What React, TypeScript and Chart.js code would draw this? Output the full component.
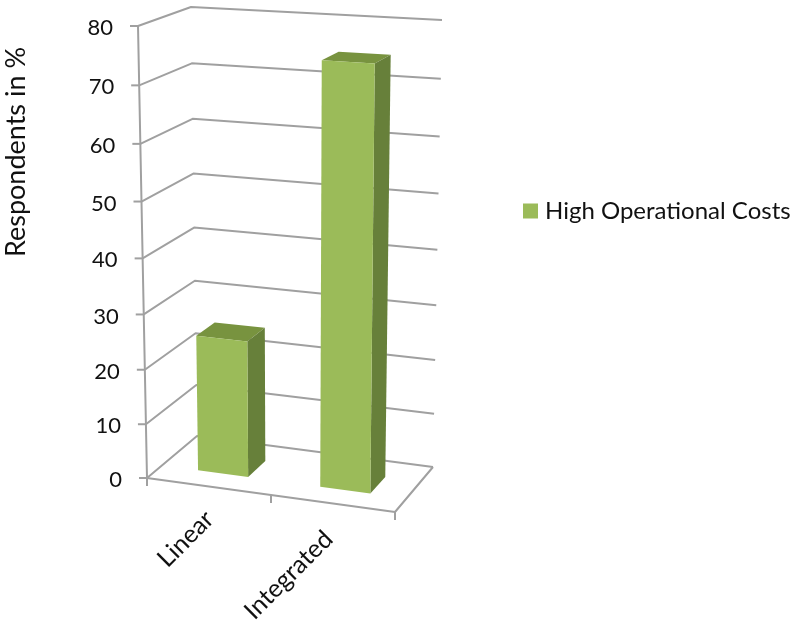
import React, { useEffect, useRef } from "react";
import { Chart, registerables, LinearScale, CategoryScale } from "chart.js";

// Chart values
const categories = ["Linear", "Integrated"];
const highOperationalCosts = [25, 75];
const seriesName = "High Operational Costs";
const yAxisTitle = "Respondents in %";
const yMin = 0;
const yMax = 80;
const yStep = 10;

// Colours
const FRONT = "#9BBB59";
const SIDE = "#67803A";
const TOP = "#78933F";
const GRID = "#A0A0A0";
const TEXT = "#111111";
const FONT = "Lato";

// Corners of the 3D box: floor (front-left, front-right, back-right, back-left)
// and the offset from each floor corner up to the top of the value range.
const FLOOR = {
  fl: [147, 478],
  fr: [395, 512],
  br: [433, 467],
  bl: [197, 436],
};
const RISE = {
  fl: [-9, -452],
  fr: [6, -470],
  br: [9, -447],
  bl: [-6, -429],
};
const BAR_DEPTH_FRONT = 0.3;
const BAR_DEPTH_BACK = 0.675;
const FORESHORTEN = 0.945;

const lerp = (a: number, b: number, t: number) => a + (b - a) * t;
const bilinear = (c: any, u: number, w: number, i: number) =>
  lerp(lerp(c.fl[i], c.fr[i], u), lerp(c.bl[i], c.br[i], u), w);

// Maps (along category axis, depth, height) in 0..1 onto the canvas.
function project(u: number, w: number, h: number): [number, number] {
  return [
    bilinear(FLOOR, u, w, 0) + bilinear(RISE, u, w, 0) * h,
    bilinear(FLOOR, u, w, 1) + bilinear(RISE, u, w, 1) * h,
  ];
}

// Linear value axis whose upper steps are slightly stretched by perspective.
class PerspectiveScale extends LinearScale {
  static id = "perspective";
  static defaults = {};
  getPixelForValue(value: number) {
    const s = this as any;
    const t = (value - s.min) / (s.max - s.min);
    const f = (FORESHORTEN * t) / (1 - (1 - FORESHORTEN) * t);
    return s.bottom - f * s.height;
  }
  getValueForPixel(pixel: number) {
    const s = this as any;
    const f = (s.bottom - pixel) / s.height;
    const t = f / (FORESHORTEN + (1 - FORESHORTEN) * f);
    return s.min + t * (s.max - s.min);
  }
  _computeLabelItems(area: any) {
    const s = this as any;
    const items = super._computeLabelItems(area);
    for (const item of items) {
      const [x, y] = item.options.translation;
      const h = (s.bottom - y) / s.height;
      item.options.translation = [x + project(0, 0, h)[0] - FLOOR.fl[0], y + 2];
    }
    return items;
  }
  drawTitle() {
    const ctx = (this as any).ctx;
    ctx.save();
    ctx.translate(-2, -100);
    super.drawTitle();
    ctx.restore();
  }
}

// Category axis whose labels follow the tilted front edge of the floor.
class TiltedCategoryScale extends CategoryScale {
  static id = "tiltedCategory";
  static defaults = {};
  _computeLabelItems(area: any) {
    const s = this as any;
    const items = super._computeLabelItems(area);
    items.forEach((item: any, i: number) => {
      const u = (s.getPixelForTick(i) - s.left) / s.width;
      const [x, y] = project(u, 0, 0);
      item.options.translation = [x - 10 - 10 * (u - 0.25), y + 18 + 6 * (u - 0.25)];
    });
    return items;
  }
}

Chart.register(...registerables, PerspectiveScale, TiltedCategoryScale);

function polygon(ctx: CanvasRenderingContext2D, pts: [number, number][], fill: string) {
  ctx.beginPath();
  pts.forEach((p, i) => (i ? ctx.lineTo(p[0], p[1]) : ctx.moveTo(p[0], p[1])));
  ctx.closePath();
  ctx.fillStyle = fill;
  ctx.fill();
}

function polyline(ctx: CanvasRenderingContext2D, pts: [number, number][]) {
  ctx.beginPath();
  pts.forEach((p, i) => (i ? ctx.lineTo(p[0], p[1]) : ctx.moveTo(p[0], p[1])));
  ctx.stroke();
}

// Draws the walls, floor, tick marks and extruded bars from the chart's own scales.
const boxPlugin = {
  id: "box3d",
  afterLayout(chart: any) {
    const legend = chart.legend;
    legend.left = 523;
    legend.right = 794;
    legend.top = 194;
    legend.bottom = 240;

    // Pin the value axis to the front-left edge of the box.
    const ys = chart.scales.y;
    ys.top = FLOOR.fl[1] + RISE.fl[1];
    ys.bottom = FLOOR.fl[1];
    ys.height = ys.bottom - ys.top;
    ys._labelItems = null;
    ys.configure();
  },
  beforeDatasetsDraw(chart: any) {
    const { ctx } = chart;
    const { x: xs, y: ys } = chart.scales;
    const heightOf = (py: number) => (ys.bottom - py) / ys.height;
    const uOf = (px: number) => (px - xs.left) / xs.width;

    ctx.save();
    ctx.strokeStyle = GRID;
    ctx.lineWidth = 2;
    ctx.lineJoin = "round";

    for (const tick of ys.ticks) {
      const h = heightOf(ys.getPixelForValue(tick.value));
      const a = project(0, 0, h);
      polyline(ctx, [a, project(0, 1, h), project(1, 1, h)]);
      polyline(ctx, [[a[0] - 8, a[1]], a]);
    }
    polyline(ctx, [project(0, 0, 1), project(0, 0, 0), project(1, 0, 0), project(1, 1, 0)]);
    for (const u of [0, 0.5, 1]) {
      const p = project(u, 0, 0);
      polyline(ctx, [p, [p[0], p[1] + 8]]);
    }

    for (const bar of chart.getDatasetMeta(0).data) {
      const { x, y, base, width } = bar.getProps(["x", "y", "base", "width"]);
      const u0 = uOf(x - width / 2);
      const u1 = uOf(x + width / 2);
      const h0 = heightOf(base);
      const h1 = heightOf(y);
      const wf = BAR_DEPTH_FRONT;
      const wb = BAR_DEPTH_BACK;
      polygon(ctx, [project(u0, wf, h1), project(u1, wf, h1), project(u1, wb, h1), project(u0, wb, h1)], TOP);
      polygon(ctx, [project(u1, wf, h0), project(u1, wb, h0), project(u1, wb, h1), project(u1, wf, h1)], SIDE);
      polygon(ctx, [project(u0, wf, h0), project(u1, wf, h0), project(u1, wf, h1), project(u0, wf, h1)], FRONT);
    }
    ctx.restore();
    return false;
  },
};

export default function App() {
  const ref = useRef<HTMLCanvasElement | null>(null);

  useEffect(() => {
    const chart = new Chart(ref.current as HTMLCanvasElement, {
      type: "bar",
      data: {
        labels: categories,
        datasets: [
          {
            label: seriesName,
            data: highOperationalCosts,
            backgroundColor: FRONT,
            borderColor: FRONT,
            borderWidth: 10,
            categoryPercentage: 1,
            barPercentage: 0.41,
          },
        ],
      },
      options: {
        animation: false,
        responsive: false,
        devicePixelRatio: 1,
        events: [],
        layout: { autoPadding: false, padding: { left: 0, top: 26, right: 128, bottom: 0 } },
        scales: {
          x: {
            type: "tiltedCategory",
            offset: true,
            afterFit: (axis: any) => {
              axis.height = 143;
            },
            grid: { display: false },
            border: { display: false },
            ticks: {
              minRotation: 45,
              maxRotation: 45,
              color: TEXT,
              font: { family: FONT, size: 25 },
            },
          },
          y: {
            type: "perspective",
            min: yMin,
            max: yMax,
            afterFit: (axis: any) => {
              axis.width = 147;
            },
            grid: { display: false, drawTicks: false },
            border: { display: false },
            ticks: {
              stepSize: yStep,
              padding: 25,
              color: TEXT,
              font: { family: FONT, size: 22 },
            },
            title: {
              display: true,
              text: yAxisTitle,
              color: TEXT,
              font: { family: FONT, size: 27 },
              padding: { top: 2, bottom: 0 },
            },
          },
        },
        plugins: {
          tooltip: { enabled: false },
          legend: {
            position: "right",
            align: "start",
            labels: {
              boxWidth: 5,
              boxHeight: 5,
              padding: 5,
              color: TEXT,
              font: { family: FONT, size: 24 },
            },
          },
        },
      },
      plugins: [boxPlugin],
    } as any);
    return () => chart.destroy();
  }, []);

  return (
    <div style={{ position: "absolute", left: 0, top: 0, width: 794, height: 621 }}>
      <canvas ref={ref} width={794} height={621} style={{ display: "block" }} />
    </div>
  );
}
